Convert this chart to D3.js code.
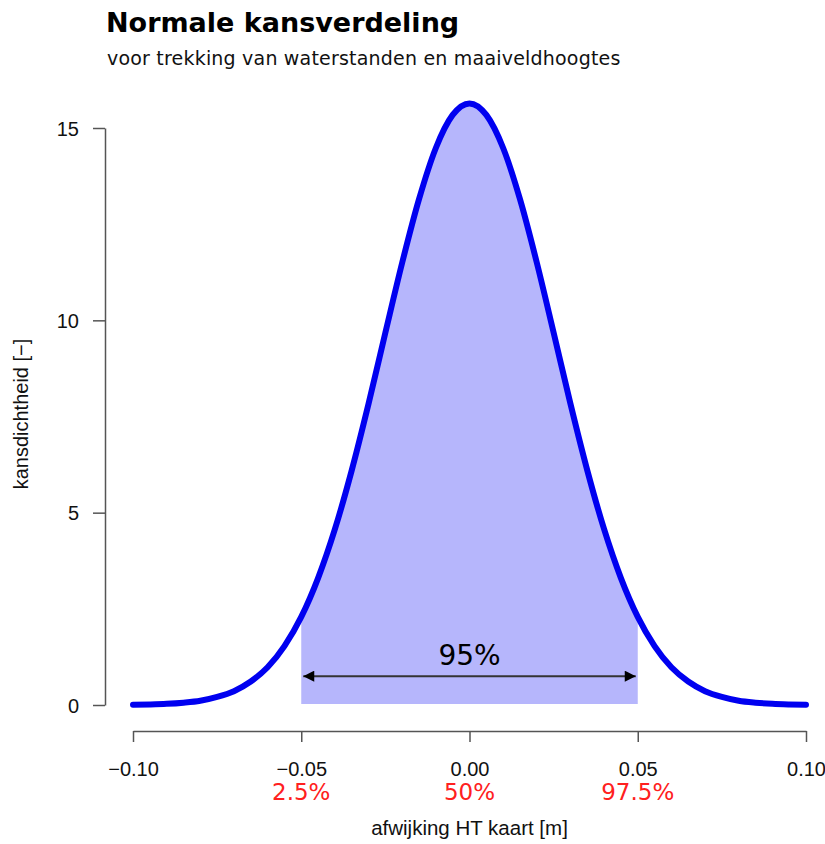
<!DOCTYPE html>
<html>
<head>
<meta charset="utf-8">
<script src="https://cdn.jsdelivr.net/npm/d3@7"></script>
<style>
  body { margin: 0; background: #fff; }
</style>
</head>
<body>
<svg id="chart" width="825" height="844"></svg>
<script>
const width = 825;
const height = 844;

// density (x in m)
const xValues = [-0.10, -0.095, -0.09, -0.085, -0.08, -0.075, -0.07, -0.065, -0.06, -0.055, -0.05, -0.045, -0.04, -0.035, -0.03, -0.025, -0.02, -0.015, -0.01, -0.005,
  0, 0.005, 0.01, 0.015, 0.02, 0.025, 0.03, 0.035, 0.04, 0.045, 0.05, 0.055, 0.06, 0.065, 0.07, 0.075, 0.08, 0.085, 0.09, 0.095, 0.10];
const density = [0.007, 0.015, 0.03, 0.06, 0.11, 0.21, 0.36, 0.61, 0.98, 1.53, 2.29, 3.30, 4.57, 6.10, 7.83, 9.68, 11.50, 13.15, 14.48, 15.34,
  15.64, 15.34, 14.48, 13.15, 11.50, 9.68, 7.83, 6.10, 4.57, 3.30, 2.29, 1.53, 0.98, 0.61, 0.36, 0.21, 0.11, 0.06, 0.03, 0.015, 0.007];

const xTicks = [-0.10, -0.05, 0.00, 0.05, 0.10];
const yTicks = [0, 5, 10, 15];
const quantileX = [-0.05, 0.00, 0.05];
const quantileLabels = ["2.5%", "50%", "97.5%"];
const bandLimits = [-0.05, 0.05];
const bandLabel = "95%";
const arrowLevel = 0.75;

const sans = "'DejaVu Sans', Verdana, sans-serif";
const arial = "'Liberation Sans', Arial, sans-serif";

const svg = d3.select("#chart");

const x = d3.scaleLinear().domain([-0.10, 0.10]).range([133, 806]);
const y = d3.scaleLinear().domain([0, 15]).range([705, 128]);

const points = xValues.map((v, i) => ({ x: v, y: density[i] }));

// shaded 95% area
const inner = points.filter(d => d.x >= bandLimits[0] - 1e-9 && d.x <= bandLimits[1] + 1e-9);
svg.append("path")
    .datum(inner)
    .attr("d", d3.area().x(d => x(d.x)).y0(y(0) - 1).y1(d => y(d.y)).curve(d3.curveMonotoneX))
    .attr("fill", "#b6b6fc");

// the curve
svg.append("path")
    .datum(points)
    .attr("d", d3.line().x(d => x(d.x)).y(d => y(d.y)).curve(d3.curveMonotoneX))
    .attr("fill", "none")
    .attr("stroke", "#0000f0")
    .attr("stroke-width", 6)
    .attr("stroke-linecap", "round")
    .attr("stroke-linejoin", "round");

// arrow
svg.append("defs").append("marker")
    .attr("id", "head")
    .attr("viewBox", "0 0 10 10")
    .attr("refX", 10).attr("refY", 5)
    .attr("markerWidth", 6).attr("markerHeight", 5.5)
    .attr("markerUnits", "strokeWidth")
    .attr("orient", "auto-start-reverse")
    .append("path")
    .attr("d", "M0,0 L10,5 L0,10 Z")
    .attr("fill", "#000");

svg.append("line")
    .attr("x1", x(bandLimits[0]) + 2).attr("x2", x(bandLimits[1]) - 2)
    .attr("y1", y(arrowLevel)).attr("y2", y(arrowLevel))
    .attr("stroke", "#333")
    .attr("stroke-width", 2)
    .attr("marker-start", "url(#head)")
    .attr("marker-end", "url(#head)");

svg.append("text")
    .attr("x", x(0)).attr("y", y(arrowLevel) - 11)
    .attr("text-anchor", "middle")
    .style("font-family", sans)
    .style("font-size", "28px")
    .attr("fill", "#000")
    .text(bandLabel);

// axes
const xAxis = svg.append("g")
    .attr("transform", "translate(0,731)")
    .call(d3.axisBottom(x).tickValues(xTicks).tickSize(11).tickSizeOuter(0)
        .tickFormat(d => d3.format(".2f")(d).replace("-", "\u2212")));
const yAxis = svg.append("g")
    .attr("transform", "translate(105,0)")
    .call(d3.axisLeft(y).tickValues(yTicks).tickSize(12).tickSizeOuter(0));

[xAxis, yAxis].forEach(g => {
    g.select(".domain").attr("stroke", "#555").attr("stroke-width", 1.5);
    g.selectAll(".tick line").attr("stroke", "#555").attr("stroke-width", 1.5);
    g.selectAll(".tick text")
        .style("font-family", arial)
        .style("font-size", "20px")
        .attr("fill", "#111");
});
xAxis.selectAll(".tick text").attr("y", 45).attr("dy", null);
yAxis.selectAll(".tick text").attr("x", -26).attr("dy", "0.36em");

// quantile labels
svg.selectAll("text.q")
    .data(quantileX)
    .enter()
    .append("text")
    .attr("class", "q")
    .attr("x", d => x(d))
    .attr("y", 800)
    .attr("text-anchor", "middle")
    .style("font-family", sans)
    .style("font-size", "23px")
    .attr("fill", "#ff2020")
    .text((d, i) => quantileLabels[i]);

// titles
svg.append("text")
    .attr("x", 106).attr("y", 32)
    .style("font-family", sans)
    .style("font-size", "27px")
    .style("font-weight", "bold")
    .attr("fill", "#000")
    .text("Normale kansverdeling");
svg.append("text")
    .attr("x", 107).attr("y", 65)
    .style("font-family", sans)
    .style("font-size", "19px")
    .style("letter-spacing", "0.2px")
    .attr("fill", "#111")
    .text("voor trekking van waterstanden en maaiveldhoogtes");

svg.append("text")
    .attr("x", x(0)).attr("y", 835)
    .attr("text-anchor", "middle")
    .style("font-family", arial)
    .style("font-size", "20.5px")
    .attr("fill", "#111")
    .text("afwijking HT kaart [m]");

svg.append("text")
    .attr("transform", "translate(28,414) rotate(-90)")
    .attr("text-anchor", "middle")
    .style("font-family", arial)
    .style("font-size", "20px")
    .attr("fill", "#111")
    .text("kansdichtheid [\u2212]");
</script>
</body>
</html>
